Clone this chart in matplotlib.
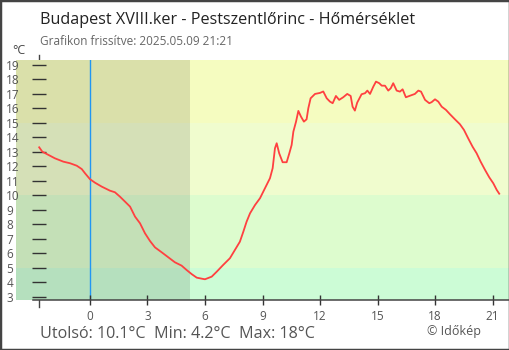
import matplotlib.pyplot as plt
from matplotlib.patches import Rectangle

plt.rcParams['font.family'] = ['Open Sans', 'DejaVu Sans']

# idopontok (ora, 0 = ejfel) es homerseklet ertekek
ora = [-2.65, -2.49, -2.26, -1.83, -1.39, -1.04, -0.69, -0.43, -0.26, 0.0,
       0.26, 0.61, 1.04, 1.30, 1.56, 1.83, 2.09, 2.35, 2.61, 2.87,
       3.13, 3.39, 3.74, 4.08, 4.43, 4.78, 5.04, 5.31, 5.57, 5.91,
       6.00, 6.35, 6.61, 6.95, 7.30, 7.56, 7.82, 8.00, 8.17, 8.35,
       8.61, 8.87, 9.13, 9.39, 9.53, 9.65, 9.74, 9.87, 10.05, 10.26,
       10.40, 10.52, 10.61, 10.75, 10.87, 11.01, 11.16, 11.30, 11.39, 11.51,
       11.74, 12.00, 12.17, 12.35, 12.52, 12.66, 12.83, 13.00, 13.21, 13.42,
       13.60, 13.70, 13.82, 13.94, 14.17, 14.35, 14.47, 14.61, 14.78, 14.92,
       15.09, 15.22, 15.39, 15.56, 15.69, 15.82, 16.00, 16.17, 16.31, 16.48,
       16.66, 16.95, 17.13, 17.27, 17.48, 17.70, 17.82, 18.00, 18.17, 18.35,
       18.57, 18.78, 19.04, 19.30, 19.51, 19.73, 19.96, 20.17, 20.38, 20.61,
       20.83, 21.04, 21.22, 21.35]
homerseklet = [13.3, 13.0, 12.84, 12.54, 12.31, 12.2, 12.03, 11.8, 11.51, 11.1,
               10.86, 10.59, 10.31, 10.2, 9.9, 9.55, 9.21, 8.52, 8.06, 7.37,
               6.84, 6.4, 6.06, 5.72, 5.37, 5.14, 4.84, 4.55, 4.31, 4.22,
               4.2, 4.38, 4.72, 5.19, 5.65, 6.22, 6.79, 7.48, 8.17, 8.75,
               9.32, 9.79, 10.48, 11.17, 11.86, 13.23, 13.58, 12.89, 12.27, 12.27,
               12.89, 13.46, 14.38, 15.07, 15.81, 15.41, 15.07, 15.23, 15.99, 16.68,
               16.98, 17.05, 17.15, 16.68, 16.45, 16.34, 16.84, 16.57, 16.75, 16.98,
               16.84, 16.1, 15.83, 16.38, 16.96, 17.03, 17.21, 16.98, 17.48, 17.83,
               17.72, 17.55, 17.55, 17.21, 17.37, 17.72, 17.21, 17.14, 17.3, 16.75,
               16.84, 16.98, 17.21, 17.14, 16.57, 16.34, 16.41, 16.61, 16.45, 16.1,
               15.88, 15.58, 15.23, 14.89, 14.5, 13.92, 13.34, 12.89, 12.31, 11.74,
               11.23, 10.82, 10.36, 10.1]

x_tickek = [0, 3, 6, 9, 12, 15, 18, 21]
y_tickek = list(range(3, 20))

# hatter savok (also hatar, felso hatar, szin)
sav_hatarok = [2.0, 5.0, 10.0, 15.0, 21.0]
sav_szinek = ['#ccfcd6', '#ddfcce', '#f0fcce', '#f5fcc0']

kezdet = ora[0]
napkelte = 5.2

fig = plt.figure(figsize=(5.1, 3.5), dpi=100)
ax = fig.add_axes([16 / 510, 50 / 350, 493 / 510, 240 / 350])

for i in range(len(sav_szinek)):
    ax.axhspan(sav_hatarok[i], sav_hatarok[i + 1], color=sav_szinek[i], lw=0, zorder=0)

# ejszaka
ax.axvspan(-5, napkelte, color='black', alpha=0.11, lw=0, zorder=0.5)

# ejfel
ax.axvline(0, color='#2196f3', lw=1.0, zorder=1)

ax.plot(ora, homerseklet, color='#ff4040', lw=1.3, zorder=3)

ax.set_xlim(-3.86, 21.86)
ax.set_ylim(2.77, 19.32)

# tengelyek
for s in ax.spines.values():
    s.set_visible(False)
ax.spines['left'].set_position(('data', kezdet))

ax.set_yticks(y_tickek)
ax.set_yticklabels([str(v) for v in y_tickek])
ax.tick_params(axis='y', direction='inout', length=9.4, width=1.0, color='#333333',
               labelsize=8.5, labelcolor='#555555', pad=19)
plt.setp(ax.get_yticklabels(), ha='left')

ax.set_xticks(x_tickek)
ax.set_xticklabels([str(v) for v in x_tickek])
ax.tick_params(axis='x', direction='inout', length=6.5, width=1.0, color='#333333',
               labelsize=8.5, labelcolor='#555555', pad=4)

# also vonal es a fuggoleges tengely vonala
ax.plot([kezdet - 0.31, 21.86], [0, 0], transform=ax.get_xaxis_transform(),
        color='#444444', lw=1.1, clip_on=False, zorder=5)
ax.plot([kezdet, kezdet], [-0.03, 1.02], transform=ax.get_xaxis_transform(),
        color='#444444', lw=1.0, clip_on=False, zorder=-1)

# szovegek
fig.text(40 / 510, 1 - 24 / 350, 'Budapest XVIII.ker - Pestszentlőrinc - Hőmérséklet',
         fontsize=11.6, color='#222222', va='baseline')
fig.text(40 / 510, 1 - 45 / 350, 'Grafikon frissítve: 2025.05.09 21:21',
         fontsize=8.5, color='#666666', va='baseline')
fig.text(12 / 510, 1 - 54 / 350, '°C', fontsize=9, color='#444444', va='baseline')
fig.text(40 / 510, 1 - 338 / 350, 'Utolsó: 10.1°C  Min: 4.2°C  Max: 18°C',
         fontsize=11.6, color='#555555', va='baseline')
fig.text(481 / 510, 1 - 335 / 350, '© Időkép', fontsize=9, color='#555555',
         va='baseline', ha='right')

# keret
fig.patches.append(Rectangle((0, 0), 1, 1, transform=fig.transFigure, fill=False,
                             ec='#444444', lw=2.5))

fig.savefig('out.png', dpi=100)
